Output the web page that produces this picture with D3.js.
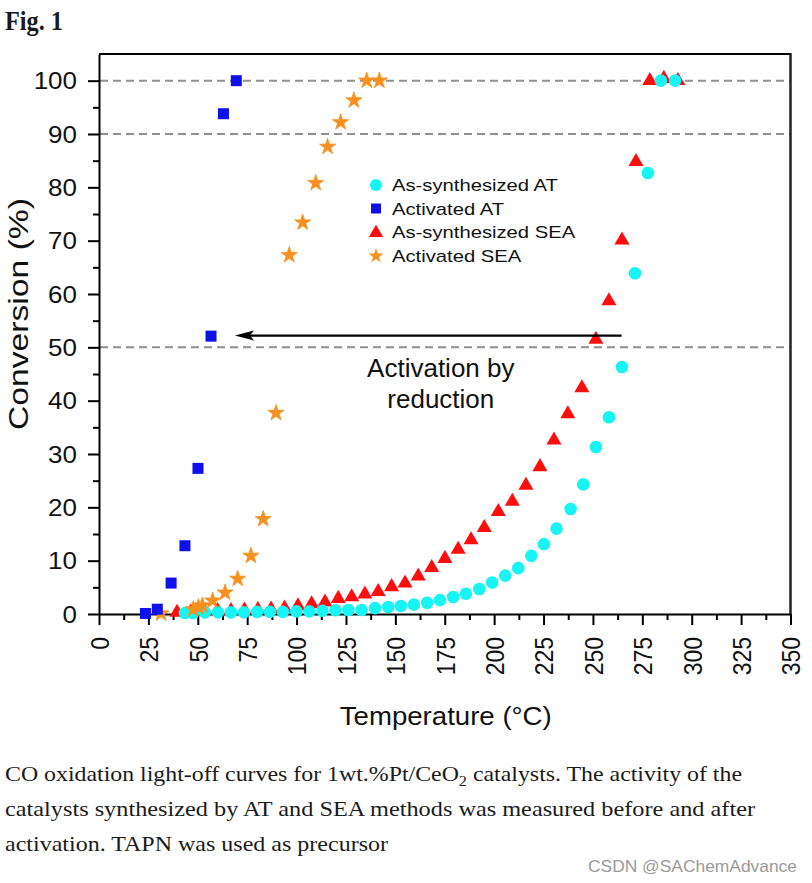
<!DOCTYPE html>
<html>
<head>
<meta charset="utf-8">
<title>Fig. 1 CO oxidation light-off curves</title>
<script src="https://cdn.jsdelivr.net/npm/d3@7"></script>
<style>
  body { margin: 0; background: #fff; }
  svg text { font-family: "Liberation Sans", Arial, Helvetica, sans-serif; fill: #111; }
  svg text.serif { font-family: "Liberation Serif", "Times New Roman", serif; fill: #1a1a1a; }
</style>
</head>
<body>
<div id="chart"></div>
<script>
// values: temperature (°C) vs CO conversion (%)
var asAT_T = [43.5, 47.6, 53.6, 60.2, 66.8, 73.4, 80.0, 86.5, 93.1, 99.9, 106.5, 113.1, 119.7, 126.2, 132.9,
              139.7, 146.4, 152.8, 159.4, 166.1, 172.6, 179.3, 185.7, 192.5, 199.0, 205.6, 212.2, 218.8,
              225.2, 231.6, 238.7, 245.1, 251.5, 258.1, 264.7, 271.3, 277.8, 284.4, 291.6];
var asAT_C = [0.2, 0.2, 0.3, 0.3, 0.3, 0.3, 0.4, 0.4, 0.4, 0.5, 0.5, 0.6, 0.7, 0.75, 0.75,
              1.1, 1.3, 1.5, 1.75, 2.1, 2.6, 3.2, 3.8, 4.7, 5.9, 7.2, 8.6, 10.9,
              13.1, 16.0, 19.7, 24.3, 31.3, 36.9, 46.3, 63.9, 82.7, 100, 100];

var actAT_T = [23.5, 29.5, 36.5, 43.5, 50.1, 56.7, 63.0, 69.5];
var actAT_C = [0.1, 0.9, 5.8, 12.8, 27.3, 52.1, 93.8, 100];

var asSEA_T = [39.5, 46.5, 53.2, 60.0, 66.8, 73.6, 80.4, 87.1, 93.9, 100.7, 107.6, 114.4, 121.1, 127.9,
               134.6, 141.3, 148.1, 154.9, 161.6, 168.4, 175.1, 181.8, 188.3, 195.0, 202.1, 209.2,
               216.1, 223.2, 230.3, 237.3, 244.4, 251.5, 258.1, 264.7, 271.8, 278.8, 285.9, 293.0];
var asSEA_C = [0.3, 0.4, 0.5, 0.6, 0.6, 0.7, 0.8, 0.9, 1.1, 1.5, 1.9, 2.2, 2.9, 3.2,
               3.7, 4.2, 5.1, 5.8, 7.1, 8.7, 10.4, 12.1, 13.9, 16.2, 19.2, 21.1,
               24.1, 27.6, 32.6, 37.5, 42.4, 51.5, 58.7, 70.1, 84.8, 100, 100.4, 100];

var actSEA_T = [31.4, 47.7, 50.3, 52.3, 57.5, 63.8, 70.2, 76.9, 83.1, 89.6, 96.3, 103.1, 109.7, 115.7,
                122.3, 129.0, 135.5, 141.9];
var actSEA_C = [0.1, 0.9, 1.3, 1.6, 2.5, 4.0, 6.6, 10.9, 17.8, 37.7, 67.3, 73.4, 80.8, 87.6,
                92.2, 96.3, 100, 100];

var xTicks = [0, 25, 50, 75, 100, 125, 150, 175, 200, 225, 250, 275, 300, 325, 350];
var xMinor = [12.5, 37.5, 62.5, 87.5, 112.5, 137.5, 162.5, 187.5, 212.5, 237.5, 262.5, 287.5, 312.5, 337.5];
var yTicks = [0, 10, 20, 30, 40, 50, 60, 70, 80, 90, 100];
var yMinor = [5, 15, 25, 35, 45, 55, 65, 75, 85, 95];
var dashedAt = [50, 90, 100];

var legendLabels = ["As-synthesized AT", "Activated AT", "As-synthesized SEA", "Activated SEA"];
var captionLines = ["CO oxidation light-off curves for 1wt.%Pt/CeO", "catalysts synthesized by AT and SEA methods was measured before and after",
                    "activation. TAPN was used as precursor"];

// arrow "Activation by reduction" in data units
var arrowFrom = 264.5, arrowTo = 68.8, arrowConv = 52.2;

var cyan = "#16f4f4", blue = "#1010ee", red = "#ff0d0d", orange = "#f7901e";

var W = 812, H = 883;
var pLeft = 99, pRight = 790.5, pTop = 54, pBottom = 614;

var x = d3.scaleLinear().domain([0, 350]).range([pLeft, pRight]);
var y = d3.scaleLinear().domain([0, 105]).range([pBottom, pTop]);

var svg = d3.select("#chart").append("svg")
  .attr("width", W).attr("height", H)
  .style("background", "#fff");

// dashed reference lines
svg.selectAll(".dash").data(dashedAt).enter().append("line")
  .attr("x1", pLeft + 1).attr("x2", pRight)
  .attr("y1", function(d){ return y(d); }).attr("y2", function(d){ return y(d); })
  .attr("stroke", "#8f8f8f").attr("stroke-width", 2).attr("stroke-dasharray", "8,5");

// frame top and right
svg.append("line").attr("x1", pLeft).attr("x2", pRight + 1).attr("y1", pTop).attr("y2", pTop)
  .attr("stroke", "#000").attr("stroke-width", 2);
svg.append("line").attr("x1", pRight).attr("x2", pRight).attr("y1", pTop).attr("y2", pBottom)
  .attr("stroke", "#222").attr("stroke-width", 2.5);

function styleAxis(g) {
  g.attr("font-size", null).attr("font-family", null);
  g.selectAll("path, line").attr("stroke", "#000").attr("stroke-width", 2);
}

// x axis
var gx = svg.append("g").attr("transform", "translate(0," + pBottom + ")")
  .call(d3.axisBottom(x).tickValues(xTicks).tickSize(11).tickSizeOuter(0).tickFormat(d3.format("d")));
styleAxis(gx);
gx.selectAll("text")
  .attr("x", 0).attr("y", 0).attr("dy", "0.36em")
  .attr("text-anchor", "end")
  .attr("transform", "translate(0,23) scale(1.13,1) rotate(-90)")
  .style("font-size", "23px");

var gxm = svg.append("g").attr("transform", "translate(0," + pBottom + ")")
  .call(d3.axisBottom(x).tickValues(xMinor).tickSize(6).tickFormat(""));
gxm.select(".domain").remove();
styleAxis(gxm);

// y axis
var gy = svg.append("g").attr("transform", "translate(" + pLeft + ",0)")
  .call(d3.axisLeft(y).tickValues(yTicks).tickSize(11).tickSizeOuter(0));
styleAxis(gy);
gy.selectAll("text")
  .attr("x", 0).attr("dy", "0.35em")
  .attr("text-anchor", "end")
  .attr("transform", "translate(-22,0) scale(1.13,1)")
  .style("font-size", "23px");

var gym = svg.append("g").attr("transform", "translate(" + pLeft + ",0)")
  .call(d3.axisLeft(y).tickValues(yMinor).tickSize(6).tickFormat(""));
gym.select(".domain").remove();
styleAxis(gym);

// axis titles
svg.append("text")
  .attr("x", (pLeft + pRight) / 2 + 1).attr("y", 725)
  .attr("text-anchor", "middle")
  .attr("textLength", 212).attr("lengthAdjust", "spacingAndGlyphs")
  .style("font-size", "26px")
  .text("Temperature (\u00b0C)");

svg.append("text")
  .attr("transform", "translate(28,314) rotate(-90)")
  .attr("text-anchor", "middle")
  .attr("textLength", 232).attr("lengthAdjust", "spacingAndGlyphs")
  .style("font-size", "28px")
  .text("Conversion (%)");

// series, drawn back to front
function zip(a, b) { return a.map(function(d, i){ return [d, b[i]]; }); }

var tri = d3.symbol().type(d3.symbolTriangle).size(98);
svg.append("g").selectAll("path").data(zip(asSEA_T, asSEA_C)).enter().append("path")
  .attr("d", tri)
  .attr("transform", function(d){ return "translate(" + x(d[0]) + "," + y(d[1]) + ")"; })
  .attr("fill", red);

svg.append("g").selectAll("circle").data(zip(asAT_T, asAT_C)).enter().append("circle")
  .attr("cx", function(d){ return x(d[0]); })
  .attr("cy", function(d){ return y(d[1]); })
  .attr("r", 6.3)
  .attr("fill", cyan);

var star = d3.symbol().type(d3.symbolStar).size(82);
svg.append("g").selectAll("path").data(zip(actSEA_T, actSEA_C)).enter().append("path")
  .attr("d", star)
  .attr("transform", function(d){ return "translate(" + x(d[0]) + "," + y(d[1]) + ")"; })
  .attr("fill", orange)
  .attr("stroke", orange).attr("stroke-width", 0.8).attr("stroke-linejoin", "round");

var sq = 11;
svg.append("g").selectAll("rect").data(zip(actAT_T, actAT_C)).enter().append("rect")
  .attr("x", function(d){ return x(d[0]) - sq / 2; })
  .attr("y", function(d){ return y(d[1]) - sq / 2; })
  .attr("width", sq).attr("height", sq)
  .attr("fill", blue);

// arrow
var ax0 = x(arrowFrom), ax1 = x(arrowTo), ay = y(arrowConv);
svg.append("line")
  .attr("x1", ax0).attr("x2", ax1 + 12).attr("y1", ay).attr("y2", ay)
  .attr("stroke", "#000").attr("stroke-width", 2.2);
svg.append("path")
  .attr("d", "M" + ax1 + "," + ay + " L" + (ax1 + 19) + "," + (ay - 5) + " L" + (ax1 + 15) + "," + ay +
             " L" + (ax1 + 19) + "," + (ay + 5) + " Z")
  .attr("fill", "#000");

var note = svg.append("text")
  .attr("text-anchor", "middle")
  .style("font-size", "26px");
note.append("tspan").attr("x", x(173)).attr("y", y(44.5)).text("Activation by");
note.append("tspan").attr("x", x(173)).attr("y", y(38.6)).text("reduction");

// legend
var legX = 376, legRows = [185, 208.5, 232, 256];
var lg = svg.append("g");
lg.append("circle").attr("cx", legX).attr("cy", legRows[0]).attr("r", 6).attr("fill", cyan);
lg.append("rect").attr("x", legX - 5).attr("y", legRows[1] - 5).attr("width", 10).attr("height", 10).attr("fill", blue);
lg.append("path").attr("d", d3.symbol().type(d3.symbolTriangle).size(88))
  .attr("transform", "translate(" + legX + "," + (legRows[2] + 1) + ")").attr("fill", red);
lg.append("path").attr("d", d3.symbol().type(d3.symbolStar).size(70))
  .attr("transform", "translate(" + legX + "," + legRows[3] + ")").attr("fill", orange);
lg.selectAll("text").data(legendLabels).enter().append("text")
  .attr("transform", function(d, i){ return "translate(392," + (legRows[i] + 6) + ") scale(1.19,1)"; })
  .style("font-size", "17px")
  .text(function(d){ return d; });

// figure label and caption
svg.append("text").attr("class", "serif")
  .attr("x", 5).attr("y", 30)
  .attr("textLength", 58).attr("lengthAdjust", "spacingAndGlyphs")
  .style("font-size", "27px").style("font-weight", "bold")
  .text("Fig. 1");

var cap1 = svg.append("text").attr("class", "serif")
  .attr("x", 5).attr("y", 781)
  .attr("textLength", 737).attr("lengthAdjust", "spacingAndGlyphs")
  .style("font-size", "22px");
cap1.append("tspan").text(captionLines[0]);
cap1.append("tspan").attr("dy", 5).style("font-size", "15px").text("2");
cap1.append("tspan").attr("dy", -5).text(" catalysts. The activity of the");

svg.append("text").attr("class", "serif")
  .attr("x", 5).attr("y", 816)
  .attr("textLength", 750).attr("lengthAdjust", "spacingAndGlyphs")
  .style("font-size", "22px")
  .text(captionLines[1]);

svg.append("text").attr("class", "serif")
  .attr("x", 5).attr("y", 851)
  .attr("textLength", 383).attr("lengthAdjust", "spacingAndGlyphs")
  .style("font-size", "22px")
  .text(captionLines[2]);

svg.append("text")
  .attr("x", 588).attr("y", 872)
  .attr("textLength", 209).attr("lengthAdjust", "spacingAndGlyphs")
  .style("font-size", "17px").style("fill", "#9a9a9a")
  .text("CSDN @SAChemAdvance");
</script>
</body>
</html>
